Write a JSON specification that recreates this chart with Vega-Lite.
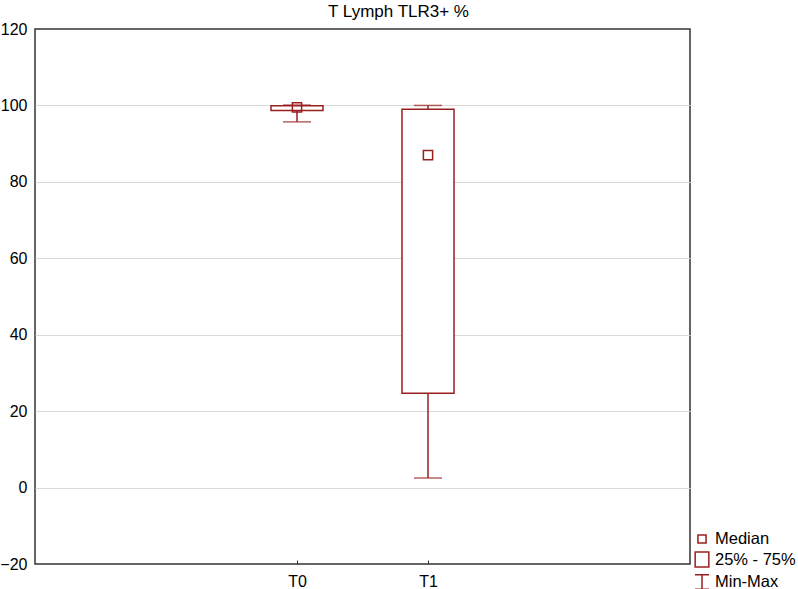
{
  "$schema": "https://vega.github.io/schema/vega-lite/v6.json",
  "width": 655,
  "height": 535,
  "autosize": "none",
  "padding": {"left": 35, "top": 29, "right": 108, "bottom": 25},
  "background": "white",
  "title": {"text": "T Lymph TLR3+ %", "fontSize": 17, "fontWeight": "normal", "font": "Liberation Sans", "color": "black", "anchor": "middle", "dx": 36, "offset": 0},
  "config": {
    "font": "Liberation Sans",
    "view": {"stroke": "#333333", "strokeWidth": 1.5},
    "axis": {"labelFont": "Liberation Sans", "labelFontSize": 16, "labelColor": "black", "domain": false, "title": null},
    "legend": {"orient": "none", "legendX": 657, "legendY": 500, "padding": 0, "labelFont": "Liberation Sans", "labelFontSize": 16.5, "labelColor": "black", "symbolSize": 324, "symbolStrokeColor": "#991f1f", "symbolFillColor": "transparent", "symbolStrokeWidth": 1.5, "symbolOpacity": 1, "rowPadding": 0.5, "labelOffset": 3}
  },
  "layer": [
    {
      "data": {"values": [
        {"group": "T0", "min": 95.7, "q1": 98.7, "median": 99.5, "q3": 99.9, "max": 100.1},
        {"group": "T1", "min": 2.5, "q1": 24.7, "median": 87, "q3": 99, "max": 100}
      ]},
      "encoding": {
        "x": {"field": "group", "type": "nominal", "scale": {"type": "point", "domain": ["L", "T0", "T1", "R"], "padding": 1},
          "axis": {"values": ["T0", "T1"], "labelAngle": 0, "tickSize": -4, "tickColor": "#333333", "tickWidth": 1, "labelPadding": 13, "grid": false}}
      },
      "layer": [
        {
          "mark": {"type": "rule", "color": "#991f1f", "strokeWidth": 1.5},
          "encoding": {
            "y": {"field": "min", "type": "quantitative", "scale": {"domain": [-20, 120], "nice": false, "zero": false},
              "axis": {"values": [-20, 0, 20, 40, 60, 80, 100, 120], "ticks": false, "labelPadding": 8,
                "gridColor": {"condition": {"test": "datum.value == 120 || datum.value == -20", "value": "transparent"}, "value": "#d9d9d9"}, "gridWidth": 1}},
            "y2": {"field": "max"}
          }
        },
        {
          "mark": {"type": "bar", "width": 52, "fill": "white", "stroke": "#991f1f", "strokeWidth": 1.5},
          "encoding": {"y": {"field": "q1", "type": "quantitative"}, "y2": {"field": "q3"}}
        },
        {
          "mark": {"type": "tick", "color": "#991f1f", "size": 28, "thickness": 1.5},
          "encoding": {"y": {"field": "max", "type": "quantitative"}}
        },
        {
          "mark": {"type": "tick", "color": "#991f1f", "size": 28, "thickness": 1.5},
          "encoding": {"y": {"field": "min", "type": "quantitative"}}
        },
        {
          "mark": {"type": "point", "shape": "square", "size": 85, "filled": false, "stroke": "#991f1f", "strokeWidth": 1.5, "opacity": 1},
          "encoding": {"y": {"field": "median", "type": "quantitative"}}
        }
      ]
    },
    {
      "data": {"values": [{"leg": "Median"}, {"leg": "25% - 75%"}, {"leg": "Min-Max"}]},
      "mark": {"type": "point", "opacity": 0, "filled": false, "stroke": "#991f1f"},
      "encoding": {
        "shape": {"field": "leg", "type": "nominal",
          "scale": {"domain": ["Median", "25% - 75%", "Min-Max"], "range": ["M-0.45,-0.45H0.45V0.45H-0.45Z", "M-0.76,-0.83H0.76V0.83H-0.76Z", "M-0.78,-0.8H0.78M0,-0.8V0.8M-0.78,0.8H0.78"]},
          "legend": {"title": null}}
      }
    }
  ]
}
